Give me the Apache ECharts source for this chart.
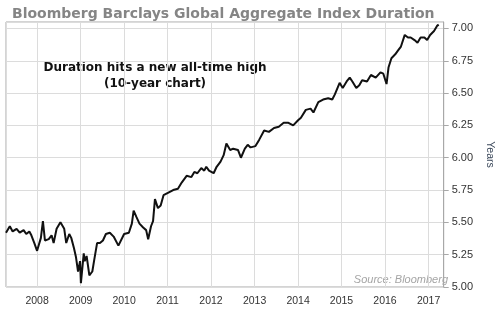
<!DOCTYPE html>
<html>
<head>
<meta charset="utf-8">
<script src="https://cdn.jsdelivr.net/npm/echarts@6/dist/echarts.min.js"></script>
<style>html,body{margin:0;padding:0;background:#fff;}#c{width:503px;height:309px;}</style>
</head>
<body>
<div id="c"></div>
<script>
var dates = ['2007-04-15','2007-05-17','2007-06-10','2007-07-13','2007-08-08','2007-09-10','2007-10-02','2007-10-28','2007-11-14','2007-12-09',
'2008-01-01','2008-02-02','2008-02-19','2008-03-07','2008-04-08','2008-05-02','2008-05-19','2008-06-13','2008-07-15','2008-07-24','2008-08-16','2008-09-02','2008-09-27','2008-10-14','2008-11-06','2008-11-23','2008-12-10','2008-12-27',
'2009-01-03','2009-01-27','2009-02-04','2009-02-20','2009-03-15','2009-04-09','2009-04-25','2009-05-19','2009-06-12','2009-07-07','2009-08-01','2009-09-03','2009-10-05','2009-11-14',
'2010-01-01','2010-02-10','2010-03-07','2010-03-22','2010-04-15','2010-05-10','2010-06-10','2010-07-05','2010-07-22','2010-08-15','2010-09-01','2010-09-17','2010-10-12','2010-11-04','2010-11-28',
'2011-01-08','2011-02-17','2011-03-29','2011-05-01','2011-06-10','2011-07-20','2011-08-14','2011-09-08','2011-10-11','2011-11-05','2011-11-22','2011-12-15',
'2012-01-23','2012-02-17','2012-03-21','2012-04-16','2012-05-09','2012-06-10','2012-07-05','2012-08-14','2012-09-08','2012-10-11','2012-11-04','2012-11-28',
'2013-01-08','2013-02-09','2013-03-22','2013-05-01','2013-06-13','2013-07-23','2013-09-02','2013-10-12','2013-11-21',
'2014-01-01','2014-01-25','2014-03-07','2014-04-16','2014-05-10','2014-06-20','2014-07-30','2014-09-11','2014-10-15','2014-11-06','2014-12-16',
'2015-01-11','2015-02-13','2015-03-11','2015-04-02','2015-05-05','2015-05-30','2015-06-23','2015-08-03','2015-09-05','2015-10-15','2015-11-24','2015-12-18',
'2016-01-14','2016-01-31','2016-02-24','2016-03-27','2016-04-20','2016-05-14','2016-06-15','2016-07-12','2016-08-04','2016-09-05','2016-09-30','2016-10-26','2016-11-27','2016-12-20',
'2017-01-14','2017-02-16','2017-03-13','2017-03-27'];
var durations = [5.42,5.47,5.43,5.45,5.42,5.44,5.41,5.43,5.40,5.34,
5.28,5.38,5.51,5.36,5.37,5.40,5.34,5.45,5.50,5.51,5.45,5.34,5.41,5.38,5.30,5.23,5.12,5.20,
5.03,5.26,5.20,5.24,5.09,5.12,5.21,5.34,5.34,5.36,5.41,5.42,5.39,5.32,
5.41,5.42,5.49,5.59,5.54,5.49,5.46,5.44,5.37,5.47,5.51,5.68,5.61,5.63,5.71,
5.73,5.75,5.76,5.81,5.86,5.85,5.89,5.88,5.92,5.90,5.93,5.90,
5.88,5.93,5.97,6.02,6.11,6.06,6.07,6.06,6.00,6.07,6.10,6.08,
6.09,6.14,6.21,6.20,6.23,6.24,6.27,6.27,6.25,
6.29,6.31,6.37,6.38,6.35,6.43,6.45,6.46,6.45,6.49,6.58,
6.54,6.59,6.62,6.59,6.54,6.56,6.60,6.59,6.64,6.62,6.66,6.65,
6.57,6.70,6.77,6.80,6.83,6.86,6.95,6.93,6.93,6.91,6.89,6.93,6.93,6.91,
6.95,6.98,7.02,7.03];
var yTicks = ['5.00','5.25','5.50','5.75','6.00','6.25','6.50','6.75','7.00'];
var titleText = 'Bloomberg Barclays Global Aggregate Index Duration';
var noteLines = ['Duration hits a new all-time high', '(10-year chart)'];
var sourceText = 'Source: Bloomberg';
var axisName = 'Years';

var seriesData = dates.map(function (d, i) { return [d, durations[i]]; });
var chart = echarts.init(document.getElementById('c'), null, {renderer: 'canvas'});
chart.setOption({
  animation: false,
  backgroundColor: '#fff',
  title: {
    text: titleText, left: 7, top: 2,
    textStyle: {fontFamily: 'DejaVu Sans', fontWeight: 'bold', fontSize: 14, color: '#858585'}
  },
  grid: {left: 6, right: 46, top: 22, bottom: 22, show: true, borderColor: '#a8a8a8', borderWidth: 1},
  xAxis: {
    type: 'time',
    min: '2007-04-15', max: '2017-05-08',
    splitNumber: 10,
    minInterval: 365 * 24 * 3600 * 1000,
    axisLine: {show: false},
    axisTick: {show: false},
    splitLine: {show: true, lineStyle: {color: '#dcdcdc', width: 1}},
    axisLabel: {
      color: '#333', fontFamily: 'Liberation Sans', fontSize: 10.5, margin: 9,
      formatter: function (v) { return String(new Date(v).getFullYear()); }
    }
  },
  yAxis: {
    type: 'value', position: 'right',
    min: 5, max: 7.05, interval: 0.25,
    name: axisName, nameLocation: 'middle', nameRotate: -90, nameGap: 40,
    nameTextStyle: {color: '#3d4a5c', fontFamily: 'Liberation Sans', fontSize: 10.5},
    axisLine: {show: true, lineStyle: {color: '#a8a8a8'}},
    axisTick: {show: true, length: 5, lineStyle: {color: '#a8a8a8'}},
    splitLine: {show: true, lineStyle: {color: '#dcdcdc', width: 1}},
    axisLabel: {
      color: '#333', fontFamily: 'Liberation Sans', fontSize: 11, margin: 8, showMaxLabel: false,
      formatter: function (v) { var s = v.toFixed(2); return yTicks.indexOf(s) >= 0 ? s : ''; }
    }
  },
  graphic: [
    {type: 'text', x: 155, y: 68, style: {text: noteLines[0], fill: '#111', font: 'bold 12px "DejaVu Sans"', align: 'center', verticalAlign: 'middle'}},
    {type: 'text', x: 155, y: 84, style: {text: noteLines[1], fill: '#111', font: 'bold 12px "DejaVu Sans"', align: 'center', verticalAlign: 'middle'}},
    {type: 'text', x: 448, y: 280, style: {text: sourceText, fill: '#a5a5a5', font: 'italic 11px "Liberation Sans"', align: 'right', verticalAlign: 'middle'}}
  ],
  series: [{
    type: 'line', data: seriesData, showSymbol: false, symbol: 'none',
    lineStyle: {color: '#111', width: 2}, z: 5
  }]
});
</script>
</body>
</html>
